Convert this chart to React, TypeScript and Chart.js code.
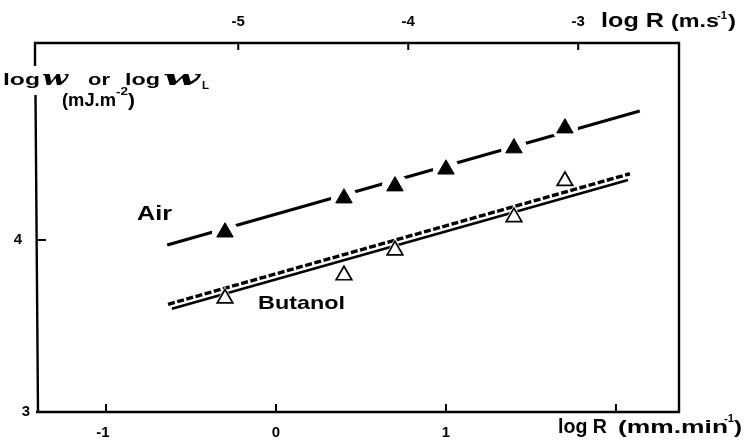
import React, { useEffect, useRef } from "react";
import { Chart, registerables } from "chart.js";

Chart.register(...registerables);

// ---- data (log R in mm/min, log W in mJ/m^2) ----
const airLogR = [-0.3, 0.4, 0.7, 1.0, 1.4, 1.7];
const airLogW = [4.045, 4.243, 4.313, 4.411, 4.534, 4.65];
const butanolLogR = [-0.3, 0.4, 0.7, 1.4, 1.7];
const butanolLogW = [3.66, 3.795, 3.94, 4.133, 4.343];

const airFitR = [-0.64, 2.14];
const airFitW = [3.971, 4.75];
const butanolDashFitR = [-0.635, 2.082];
const butanolDashFitW = [3.626, 4.385];
const butanolSolidFitR = [-0.612, 2.071];
const butanolSolidFitW = [3.6, 4.349];

const bottomTicks = [-1, 0, 1, 2];
const bottomTickLabels = ["-1", "0", "1", ""];
const topTicks = [-5, -4, -3];
const topTickLabels = ["-5", "-4", "-3"];
const leftTicks = [3, 4];
const leftTickLabels = ["3", "4"];

// log10 of 1 mm/min expressed in m/s
const MM_MIN_TO_M_S = -4.778;
const X_MIN = -1.406;
const X_MAX = 2.371;
const Y_MIN = 3;
const Y_MAX = 5.145;

const pts = (xs: number[], ys: number[]) => xs.map((x, i) => ({ x, y: ys[i] }));

const SANS = '"Liberation Sans", Arial, sans-serif';

function fitText(
  ctx: CanvasRenderingContext2D,
  text: string,
  x0: number,
  x1: number,
  baseline: number,
  font: string
) {
  ctx.font = font;
  const w = ctx.measureText(text).width || 1;
  const sx = (x1 - x0) / w;
  ctx.save();
  ctx.translate(x0, baseline);
  ctx.scale(sx, 1);
  ctx.textAlign = "left";
  ctx.textBaseline = "alphabetic";
  ctx.fillText(text, 0, 0);
  ctx.restore();
}

const framePlugin = {
  id: "frame",
  afterDraw(chart: any) {
    const { ctx, chartArea, scales } = chart;
    const { left, right, top, bottom } = chartArea;
    const x = scales.x;
    const x2 = scales.x2;
    const y = scales.y;
    ctx.save();
    ctx.strokeStyle = "#000";
    ctx.fillStyle = "#000";
    ctx.lineWidth = 2.4;
    ctx.lineCap = "butt";
    const seg = (a: number, b: number, c: number, d: number) => {
      ctx.beginPath();
      ctx.moveTo(a, b);
      ctx.lineTo(c, d);
      ctx.stroke();
    };
    // frame
    seg(left - 3, top, right + 1, top);
    seg(right, top - 1, right, bottom + 1);
    seg(left - 1, bottom, right + 1, bottom);
    seg(left - 2, top - 1, left - 2, top + 23);
    seg(left - 1.5, top + 52, left + 1, bottom + 1);

    // ticks
    ctx.lineWidth = 2;
    bottomTicks.forEach((v) => {
      const px = x.getPixelForValue(v);
      seg(px, bottom, px, bottom - 8);
    });
    topTicks.forEach((v) => {
      const px = x2.getPixelForValue(v);
      seg(px, top, px, top + 7);
    });
    leftTicks.forEach((v) => {
      if (v === Y_MIN) return;
      const py = y.getPixelForValue(v);
      seg(left, py, left + 9, py);
    });

    // tick labels
    ctx.font = `bold 15px ${SANS}`;
    ctx.textAlign = "center";
    ctx.textBaseline = "middle";
    bottomTicks.forEach((v, i) => {
      const lbl = bottomTickLabels[i];
      if (lbl) ctx.fillText(lbl, x.getPixelForValue(v) - (v < 0 ? 3 : 0), bottom + 21);
    });
    topTicks.forEach((v, i) => {
      ctx.fillText(topTickLabels[i], x2.getPixelForValue(v), top - 21);
    });
    leftTicks.forEach((v, i) => {
      const py = y.getPixelForValue(v);
      ctx.fillText(leftTickLabels[i], v === Y_MIN ? left - 11 : left - 19, py);
    });

    // axis titles
    // top: log R (m.s-1)
    fitText(ctx, "log R", 601, 664, 27, `bold 21px ${SANS}`);
    fitText(ctx, "(m.s", 671, 719, 27, `bold 19px ${SANS}`);
    fitText(ctx, "-1", 717, 727, 19, `bold 10px ${SANS}`);
    fitText(ctx, ")", 728, 736, 27, `bold 19px ${SANS}`);
    // bottom: log R (mm.min-1)
    fitText(ctx, "log R", 558, 607, 433, `bold 21px ${SANS}`);
    fitText(ctx, "(mm.min", 618, 728, 433, `bold 19px ${SANS}`);
    fitText(ctx, "-1", 724, 734, 422, `bold 10px ${SANS}`);
    fitText(ctx, ")", 734, 742, 433, `bold 19px ${SANS}`);
    // left: log W or log W_L (mJ.m-2)
    fitText(ctx, "log", 3, 40, 85, `bold 17px ${SANS}`);
    fitText(ctx, "w", 42, 68, 85, `bold italic 21px "DejaVu Serif", serif`);
    fitText(ctx, "or", 88, 110, 85, `bold 17px ${SANS}`);
    fitText(ctx, "log", 125, 160, 85, `bold 17px ${SANS}`);
    fitText(ctx, "w", 163, 200, 85, `bold italic 21px "DejaVu Serif", serif`);
    fitText(ctx, "L", 202, 209, 89, `bold 10px ${SANS}`);
    fitText(ctx, "(mJ.m", 62, 116, 106, `bold 19px ${SANS}`);
    fitText(ctx, "-2", 116, 128, 95, `bold 10px ${SANS}`);
    fitText(ctx, ")", 128, 135, 106, `bold 19px ${SANS}`);

    // series labels
    fitText(ctx, "Air", 137, 172, 220, `bold 20px ${SANS}`);
    fitText(ctx, "Butanol", 258, 345, 309, `bold 19px ${SANS}`);
    ctx.restore();
  },
};

export default function App() {
  const canvasRef = useRef<HTMLCanvasElement | null>(null);

  useEffect(() => {
    const canvas = canvasRef.current;
    if (!canvas) return;
    const chart = new Chart(canvas, {
      type: "scatter",
      data: {
        datasets: [
          {
            label: "Air",
            data: pts(airLogR, airLogW),
            pointStyle: "triangle",
            pointRadius: 9.5,
            pointBackgroundColor: "#000",
            pointBorderColor: "#000",
            pointBorderWidth: 1,
            showLine: false,
            order: 0,
          },
          {
            label: "Butanol",
            data: pts(butanolLogR, butanolLogW),
            pointStyle: "triangle",
            pointRadius: 9,
            pointBackgroundColor: "#fff",
            pointBorderColor: "#000",
            pointBorderWidth: 1.7,
            showLine: false,
            order: 0,
          },
          {
            label: "Air gap",
            data: pts(airLogR, airLogW),
            pointStyle: "circle",
            pointRadius: 13,
            pointBackgroundColor: "#fff",
            pointBorderWidth: 0,
            showLine: false,
            order: 1,
          },
          {
            label: "Butanol gap",
            data: pts(butanolLogR, butanolLogW),
            pointStyle: "triangle",
            pointRadius: 12,
            pointBackgroundColor: "#fff",
            pointBorderWidth: 0,
            showLine: false,
            order: 1,
          },
          {
            label: "Air fit",
            data: pts(airFitR, airFitW),
            showLine: true,
            borderColor: "#000",
            borderWidth: 3.2,
            pointRadius: 0,
            order: 2,
          },
          {
            label: "Butanol fit (dashed)",
            data: pts(butanolDashFitR, butanolDashFitW),
            showLine: true,
            borderColor: "#000",
            borderWidth: 3.4,
            borderDash: [7, 2.5],
            pointRadius: 0,
            order: 2,
          },
          {
            label: "Butanol fit",
            data: pts(butanolSolidFitR, butanolSolidFitW),
            showLine: true,
            borderColor: "#000",
            borderWidth: 2.6,
            pointRadius: 0,
            order: 2,
          },
        ],
      },
      options: {
        animation: false,
        responsive: false,
        maintainAspectRatio: false,
        layout: { padding: { left: 37, right: 66, top: 43, bottom: 29 } },
        plugins: { legend: { display: false }, tooltip: { enabled: false } },
        scales: {
          x: { type: "linear", min: X_MIN, max: X_MAX, display: false },
          x2: {
            type: "linear",
            axis: "x",
            position: "top",
            min: X_MIN + MM_MIN_TO_M_S,
            max: X_MAX + MM_MIN_TO_M_S,
            display: false,
          },
          y: { type: "linear", min: Y_MIN, max: Y_MAX, display: false },
        },
      },
      plugins: [framePlugin],
    });
    return () => chart.destroy();
  }, []);

  return (
    <div
      style={{
        position: "fixed",
        left: 0,
        top: 0,
        width: 745,
        height: 441,
        background: "#fff",
      }}
    >
      <canvas ref={canvasRef} width={745} height={441} style={{ display: "block" }} />
    </div>
  );
}
